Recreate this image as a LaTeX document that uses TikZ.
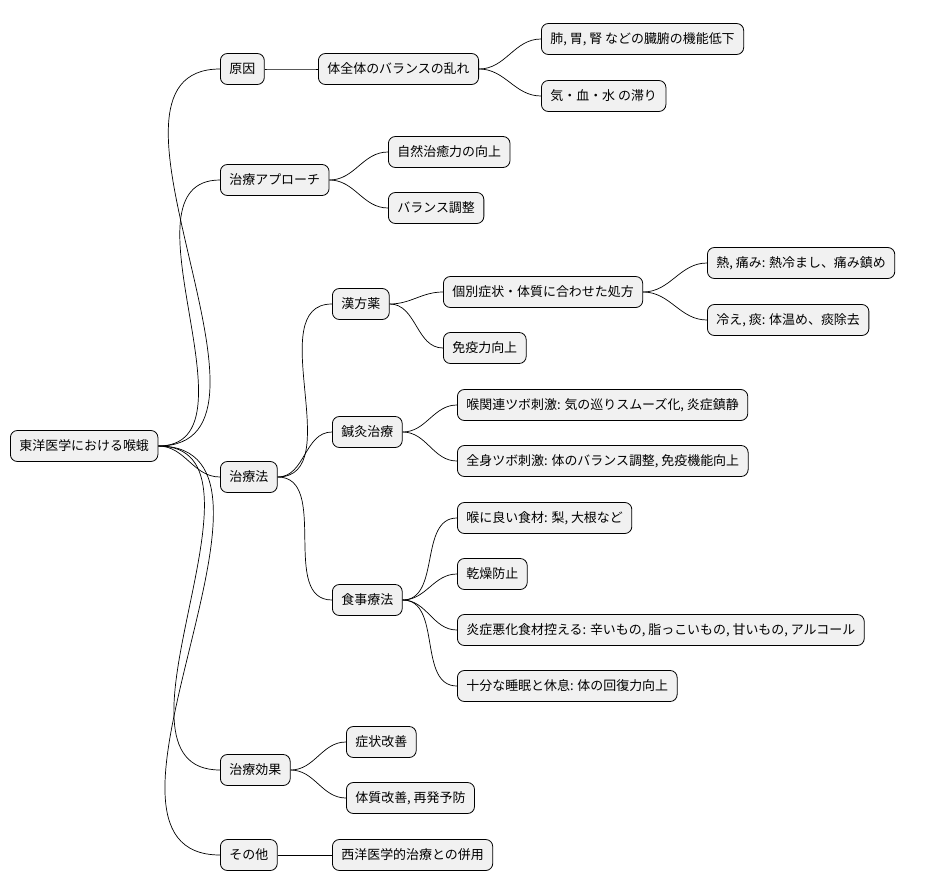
\documentclass[tikz,border=0pt]{standalone}
\usepackage{fontspec}
\setmainfont{Noto Sans CJK JP}
\usepackage{xcolor}
\definecolor{boxgray}{RGB}{241,241,241}
\begin{document}
\begin{tikzpicture}[x=1bp,y=-1bp,
  box/.style={draw, rounded corners=7bp, fill=boxgray, line width=0.8bp,
    anchor=west, minimum height=31bp, inner xsep=9bp, inner ysep=0bp,
    font=\fontsize{13}{15}\selectfont},
  link/.style={line width=0.7bp}]
  \useasboundingbox (0,0) rectangle (927,893);
  % Nodes
  \node[box] (root) at (10,446) {東洋医学における喉蛾};
  \node[box] (gen) at (220,69) {原因};
  \node[box] (app) at (220,180) {治療アプローチ};
  \node[box] (tre) at (220,477) {治療法};
  \node[box] (eff) at (220,770) {治療効果};
  \node[box] (oth) at (220,855) {その他};
  \node[box] (bal) at (318,69) {体全体のバランスの乱れ};
  \node[box] (org) at (541,39) {肺, 胃, 腎 などの臓腑の機能低下};
  \node[box] (ki) at (541,96) {気・血・水 の滞り};
  \node[box] (nat) at (388,152) {自然治癒力の向上};
  \node[box] (adj) at (388,208) {バランス調整};
  \node[box] (kam) at (332,304) {漢方薬};
  \node[box] (ind) at (443,292) {個別症状・体質に合わせた処方};
  \node[box] (hot) at (707,263) {熱, 痛み: 熱冷まし、痛み鎮め};
  \node[box] (cold) at (707,320) {冷え, 痰: 体温め、痰除去};
  \node[box] (imm) at (443,348) {免疫力向上};
  \node[box] (acu) at (332,432) {鍼灸治療};
  \node[box] (thr) at (457,405) {喉関連ツボ刺激: 気の巡りスムーズ化, 炎症鎮静};
  \node[box] (body) at (457,461) {全身ツボ刺激: 体のバランス調整, 免疫機能向上};
  \node[box] (diet) at (332,600) {食事療法};
  \node[box] (food) at (457,518) {喉に良い食材: 梨, 大根など};
  \node[box] (dry) at (457,574) {乾燥防止};
  \node[box] (avoid) at (457,630) {炎症悪化食材控える: 辛いもの, 脂っこいもの, 甘いもの, アルコール};
  \node[box] (slp) at (457,686) {十分な睡眠と休息: 体の回復力向上};
  \node[box] (sym) at (346,742) {症状改善};
  \node[box] (con) at (346,798) {体質改善, 再発予防};
  \node[box] (wes) at (332,855) {西洋医学的治療との併用};
  % Edges
  \foreach \p/\c in {root/gen, root/app, root/tre, root/eff, root/oth,
      gen/bal, bal/org, bal/ki, app/nat, app/adj,
      tre/kam, tre/acu, tre/diet, kam/ind, kam/imm, ind/hot, ind/cold,
      acu/thr, acu/body, diet/food, diet/dry, diet/avoid, diet/slp,
      eff/sym, eff/con, oth/wes}
    \draw[link] (\p.east) to[out=0, in=180] (\c.west);
\end{tikzpicture}
\end{document}
